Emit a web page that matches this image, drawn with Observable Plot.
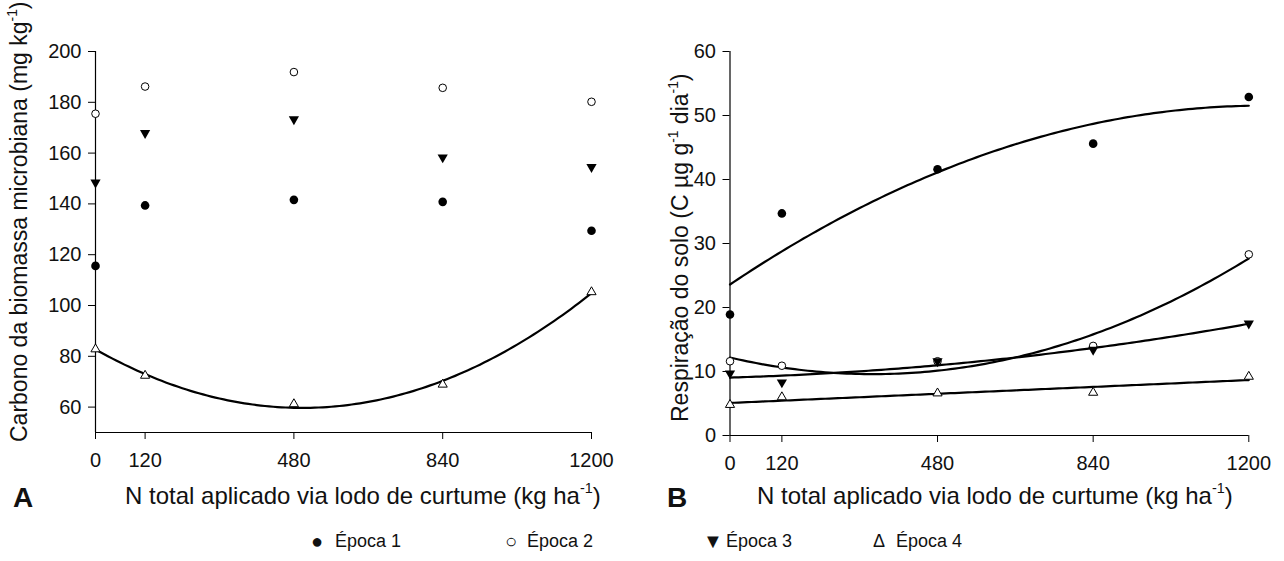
<!DOCTYPE html>
<html>
<head>
<meta charset="utf-8">
<script src="https://cdn.jsdelivr.net/npm/d3@7"></script>
<script src="https://cdn.jsdelivr.net/npm/@observablehq/plot@0.6"></script>
<style>
  html, body { margin: 0; padding: 0; background: #fff; }
  #wrap { position: relative; width: 1284px; height: 561px; overflow: hidden; font-family: "Liberation Sans", Arial, sans-serif; color: #111; }
  .panel { position: absolute; top: 0; }
  .t { position: absolute; white-space: nowrap; font-size: 23px; line-height: 1; }
  .t.x { font-size: 24px; }
  .t sup { font-size: 0.6em; vertical-align: 0.75em; line-height: 0; }
  .lab { position: absolute; font-weight: bold; font-size: 28px; line-height: 1; }
  .rot { transform-origin: 0 0; transform: rotate(-90deg); }
  .leg { position: absolute; font-size: 18px; line-height: 1; white-space: nowrap; }
  .mk { position: absolute; font-size: 20px; line-height: 1; }
</style>
</head>
<body>
<div id="wrap">
  <div id="pa" class="panel" style="left:0"></div>
  <div id="pb" class="panel" style="left:642px"></div>
  <div class="t rot" style="left:8px; top:442px;">Carbono da biomassa microbiana (mg kg<sup>-1</sup>)</div>
  <div class="t rot" style="left:669px; top:422px;">Respiração do solo (C µg g<sup>-1</sup> dia<sup>-1</sup>)</div>
  <div class="lab" style="left:13px; top:484px;">A</div>
  <div class="lab" style="left:667px; top:484px;">B</div>
  <div class="t x" style="left:125px; top:484px;">N total aplicado via lodo de curtume (kg ha<sup>-1</sup>)</div>
  <div class="t x" style="left:757px; top:484px;">N total aplicado via lodo de curtume (kg ha<sup>-1</sup>)</div>
  <div class="mk" style="left:311px; top:531px;">●</div><div class="leg" style="left:335px; top:532px;">Época 1</div>
  <div class="mk" style="left:505px; top:531px;">○</div><div class="leg" style="left:527px; top:532px;">Época 2</div>
  <div class="mk" style="left:703px; top:531px;">▼</div><div class="leg" style="left:726px; top:532px;">Época 3</div>
  <div class="leg" style="left:873px; top:532px;">Δ</div><div class="leg" style="left:896px; top:532px;">Época 4</div>
</div>
<script>
// ---- data ----
const doses = [0, 120, 480, 840, 1200];              // N total aplicado (kg ha-1)
const xTicks = [0, 120, 480, 840, 1200];
const yTicksA = [60, 80, 100, 120, 140, 160, 180, 200];
const yTicksB = [0, 10, 20, 30, 40, 50, 60];
const seriesNames = ["Época 1", "Época 2", "Época 3", "Época 4"];

// Panel A: Carbono da biomassa microbiana (mg kg-1)
const cbmEpoca1 = [115.6, 139.4, 141.6, 140.8, 129.4];
const cbmEpoca2 = [175.5, 186.2, 191.9, 185.7, 180.2];
const cbmEpoca3 = [148.4, 167.9, 173.3, 158.3, 154.5];
const cbmEpoca4 = [82.8, 72.4, 61.2, 68.9, 105.3];

// Panel B: Respiração do solo (C µg g-1 dia-1)
const respEpoca1 = [18.9, 34.7, 41.6, 45.6, 52.9];
const respEpoca2 = [11.6, 10.9, 11.6, 14.0, 28.3];
const respEpoca3 = [9.7, 8.3, 11.6, 13.4, 17.5];
const respEpoca4 = [4.8, 6.0, 6.6, 6.7, 9.2];

// degree of the regression drawn for each series (0 = no line)
const fitDegA = [0, 0, 0, 2];
const fitDegB = [2, 2, 2, 1];

// ---- least-squares polynomial regression of the plotted points ----
function polyfit(xs, ys, deg) {
  const s = 100, n = deg + 1;
  const A = Array.from({length: n}, () => new Array(n + 1).fill(0));
  xs.forEach((x0, k) => {
    const x = x0 / s;
    for (let i = 0; i < n; i++) {
      for (let j = 0; j < n; j++) A[i][j] += Math.pow(x, i + j);
      A[i][n] += Math.pow(x, i) * ys[k];
    }
  });
  for (let i = 0; i < n; i++) {
    let p = i;
    for (let r = i + 1; r < n; r++) if (Math.abs(A[r][i]) > Math.abs(A[p][i])) p = r;
    [A[i], A[p]] = [A[p], A[i]];
    for (let r = 0; r < n; r++) {
      if (r === i) continue;
      const f = A[r][i] / A[i][i];
      for (let c = i; c <= n; c++) A[r][c] -= f * A[i][c];
    }
  }
  const coef = A.map((row, i) => row[n] / row[i]);
  return x => coef.reduce((acc, c, i) => acc + c * Math.pow(x / s, i), 0);
}

function rows(values) { return doses.map((d, i) => ({dose: d, v: values[i]})); }
function fitRows(values, deg) {
  const f = polyfit(doses, values, deg);
  const xs = d3.range(doses[0], doses[doses.length - 1] + 1, 10);
  return xs.map(x => ({dose: x, v: f(x)}));
}

const markStyles = [
  {symbol: "circle", fill: "black", stroke: "none", r: 4.3},
  {symbol: "circle", fill: "white", stroke: "black", strokeWidth: 1, r: 3.8},
  {symbol: "triangle", fill: "black", stroke: "none", r: 3.8, rotate: 180},
  {symbol: "triangle", fill: "white", stroke: "black", strokeWidth: 1, r: 3.4}
];

function panel({series, degs, yDomain, yTicks, marginLeft, marginRight}) {
  const marks = [
    Plot.ruleX([0], {y1: yDomain[0], y2: yDomain[1], stroke: "black", strokeWidth: 1.2}),
    Plot.ruleY([yDomain[0]], {x1: 0, x2: 1200, stroke: "black", strokeWidth: 1.2}),
    Plot.axisY({ticks: yTicks, tickSize: 7, tickPadding: 7, label: null, fontSize: 20, stroke: "black"}),
    Plot.axisX({ticks: xTicks, tickSize: 7, tickPadding: 13, label: null, fontSize: 20, stroke: "black", tickFormat: d => String(d)})
  ];
  series.forEach((vals, i) => {
    if (degs[i] > 0) marks.push(Plot.line(fitRows(vals, degs[i]), {x: "dose", y: "v", stroke: "black", strokeWidth: 2.2, curve: "linear"}));
  });
  series.forEach((vals, i) => {
    marks.push(Plot.dot(rows(vals), {x: "dose", y: "v", ...markStyles[i]}));
  });
  return Plot.plot({
    width: 642,
    height: 470,
    marginTop: 51,
    marginBottom: 470 - (yDomain[0] === 0 ? 435 : 432),
    marginLeft, marginRight,
    x: {domain: [0, 1200]},
    y: {domain: yDomain},
    style: {fontFamily: "'Liberation Sans', Arial, sans-serif", color: "#111", background: "transparent", overflow: "visible"},
    marks
  });
}

document.getElementById("pa").append(panel({
  series: [cbmEpoca1, cbmEpoca2, cbmEpoca3, cbmEpoca4],
  degs: fitDegA, yDomain: [50, 200], yTicks: yTicksA,
  marginLeft: 95, marginRight: 51
}));
document.getElementById("pb").append(panel({
  series: [respEpoca1, respEpoca2, respEpoca3, respEpoca4],
  degs: fitDegB, yDomain: [0, 60], yTicks: yTicksB,
  marginLeft: 87.5, marginRight: 35.7
}));
</script>
</body>
</html>
